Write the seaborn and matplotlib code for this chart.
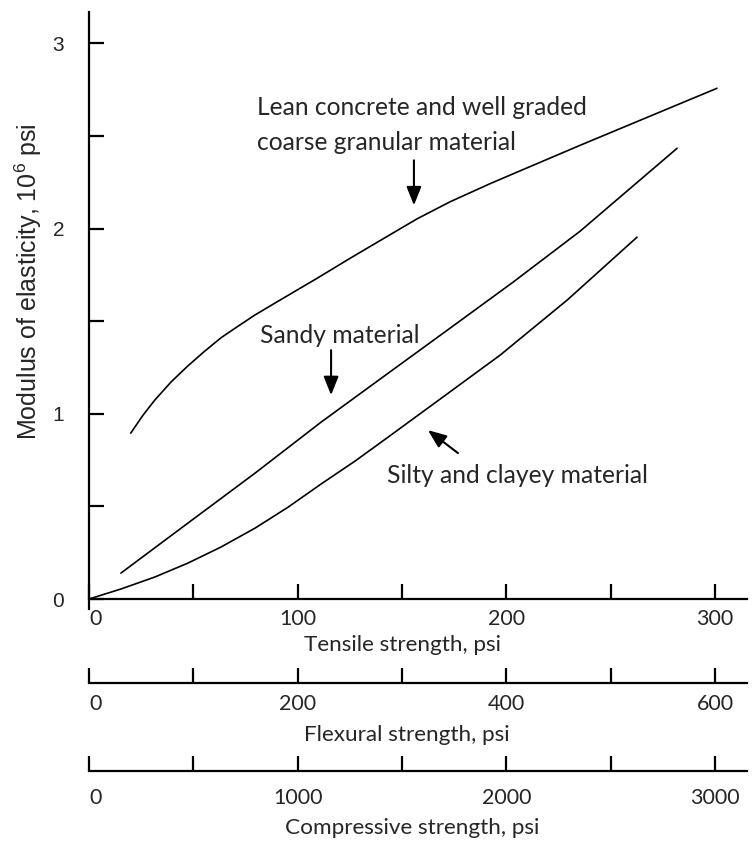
import numpy as np
import pandas as pd
import matplotlib
matplotlib.use("Agg")
import matplotlib.pyplot as plt
import seaborn as sns

# values (tensile strength, psi -> modulus, 10^6 psi)
lean_x = [20.0, 25.9, 31.5, 39.4, 47.4, 55.4, 63.4, 71.4, 79.4, 93.0, 109.3, 125.1,
          140.9, 157.2, 173.0, 192.2, 203.2, 235.3, 300.9]
lean_y = [0.896, 0.993, 1.074, 1.173, 1.259, 1.338, 1.412, 1.473, 1.533, 1.624, 1.732,
          1.840, 1.945, 2.053, 2.145, 2.243, 2.296, 2.450, 2.758]

sandy_x = [15.3, 47.4, 79.6, 111.2, 143.3, 171.6, 203.2, 235.3, 281.8]
sandy_y = [0.140, 0.410, 0.680, 0.955, 1.219, 1.451, 1.711, 1.986, 2.434]

silty_x = [0.0, 15.3, 31.6, 47.4, 63.3, 79.6, 95.4, 111.2, 127.5, 143.3, 164.9, 197.0, 229.1, 262.6]
silty_y = [0.0, 0.054, 0.119, 0.194, 0.281, 0.383, 0.496, 0.621, 0.745, 0.874, 1.052, 1.317, 1.614, 1.954]

tensile_ticks = [0, 100, 200, 300]
flexural_ticks = [0, 200, 400, 600]
compressive_ticks = [0, 1000, 2000, 3000]
modulus_ticks = [0, 1, 2, 3]

df = pd.concat([
    pd.DataFrame({"tensile": lean_x, "modulus": lean_y, "material": "lean"}),
    pd.DataFrame({"tensile": sandy_x, "modulus": sandy_y, "material": "sandy"}),
    pd.DataFrame({"tensile": silty_x, "modulus": silty_y, "material": "silty"}),
])

sns.set_theme(style="white")
plt.rcParams["font.family"] = ["Lato", "DejaVu Sans"]

fig = plt.figure(figsize=(7.52, 8.41), dpi=100)
ax = fig.add_axes([89 / 752, (841 - 609.2) / 841, 658 / 752, 597.2 / 841])

sns.lineplot(data=df, x="tensile", y="modulus", units="material", estimator=None,
             sort=False, color="black", lw=1.2, ax=ax)

ax.set_xlim(0, 315.3)
ax.set_ylim(-0.055, 3.17)
for s in ["top", "right"]:
    ax.spines[s].set_visible(False)
ax.spines["bottom"].set_position(("data", 0))
for s in ["left", "bottom"]:
    ax.spines[s].set_linewidth(1.6)
    ax.spines[s].set_color("black")

ax.set_xticks(tensile_ticks, [str(t) for t in tensile_ticks])
ax.set_xticks([50, 150, 250], minor=True)
ax.tick_params(axis="x", which="both", direction="in", length=11, width=1.6,
               color="black", labelsize=15.5, pad=7, bottom=True)
ax.set_yticks(modulus_ticks, [str(t) for t in modulus_ticks],
              fontfamily="Liberation Sans", fontsize=15)
ax.set_yticks([0.5, 1.5, 2.5], minor=True)
ax.tick_params(axis="y", which="both", direction="in", length=11, width=1.6,
               color="black", pad=18, left=True)

ax.set_xlabel("Tensile strength, psi", fontsize=16.2)
ax.xaxis.set_label_coords(0.476, -0.060)
ax.xaxis.label.set_va("center")

ax.set_ylabel("Modulus of elasticity, 10$^{\\mathregular{6}}$ psi",
              fontfamily="Liberation Sans", fontsize=18)
ax.yaxis.set_label_coords(-0.0927, 0.548)
ax.yaxis.label.set_va("center")

# extra strength scales below
flex = ax.secondary_xaxis(-0.1236, functions=(lambda t: 2 * t, lambda f: f / 2))
flex.set_xticks(flexural_ticks, [str(t) for t in flexural_ticks])
flex.set_xticks([100, 300, 500], minor=True)
flex.set_xlabel("Flexural strength, psi", fontsize=16.2)
flex.xaxis.set_label_coords(0.483, -0.2106, transform=ax.transAxes)
flex.xaxis.label.set_va("center")

comp = ax.secondary_xaxis(-0.2709, functions=(lambda t: 10 * t, lambda c: c / 10))
comp.set_xticks(compressive_ticks, [str(t) for t in compressive_ticks])
comp.set_xticks([500, 1500, 2500], minor=True)
comp.set_xlabel("Compressive strength, psi", fontsize=16.2)
comp.xaxis.set_label_coords(0.491, -0.3663, transform=ax.transAxes)
comp.xaxis.label.set_va("center")

for sec, pad in [(flex, 8), (comp, 12)]:
    sec.tick_params(axis="x", which="both", direction="in", length=11, width=1.6,
                    color="black", labelsize=15.5, pad=pad)
    for s in ["top", "bottom"]:
        sec.spines[s].set_linewidth(1.6)
        sec.spines[s].set_color("black")

# the "0" labels sit just right of the axis start
for a in [ax, flex, comp]:
    a.xaxis.get_major_ticks()[0].label1.set_horizontalalignment("left")

# curve labels and arrows
ax.text(80.5, 2.655, "Lean concrete and well graded", fontsize=17.7, va="center")
ax.text(80.5, 2.466, "coarse granular material", fontsize=17.7, va="center")
ax.text(81.9, 1.425, "Sandy material", fontsize=17.7, va="center")
ax.text(142.8, 0.669, "Silty and clayey material", fontsize=17.7, va="center")

arrow = dict(arrowstyle="-|>,head_width=0.3,head_length=0.75", color="black",
             lw=1.5, shrinkA=0, shrinkB=0, mutation_scale=15)
ax.annotate("", xy=(155.7, 2.126), xytext=(155.7, 2.369), arrowprops=arrow)
ax.annotate("", xy=(116.0, 1.101), xytext=(116.0, 1.344), arrowprops=arrow)
ax.annotate("", xy=(162.4, 0.912), xytext=(176.8, 0.788), arrowprops=arrow)

fig.savefig("out.png", dpi=100)
